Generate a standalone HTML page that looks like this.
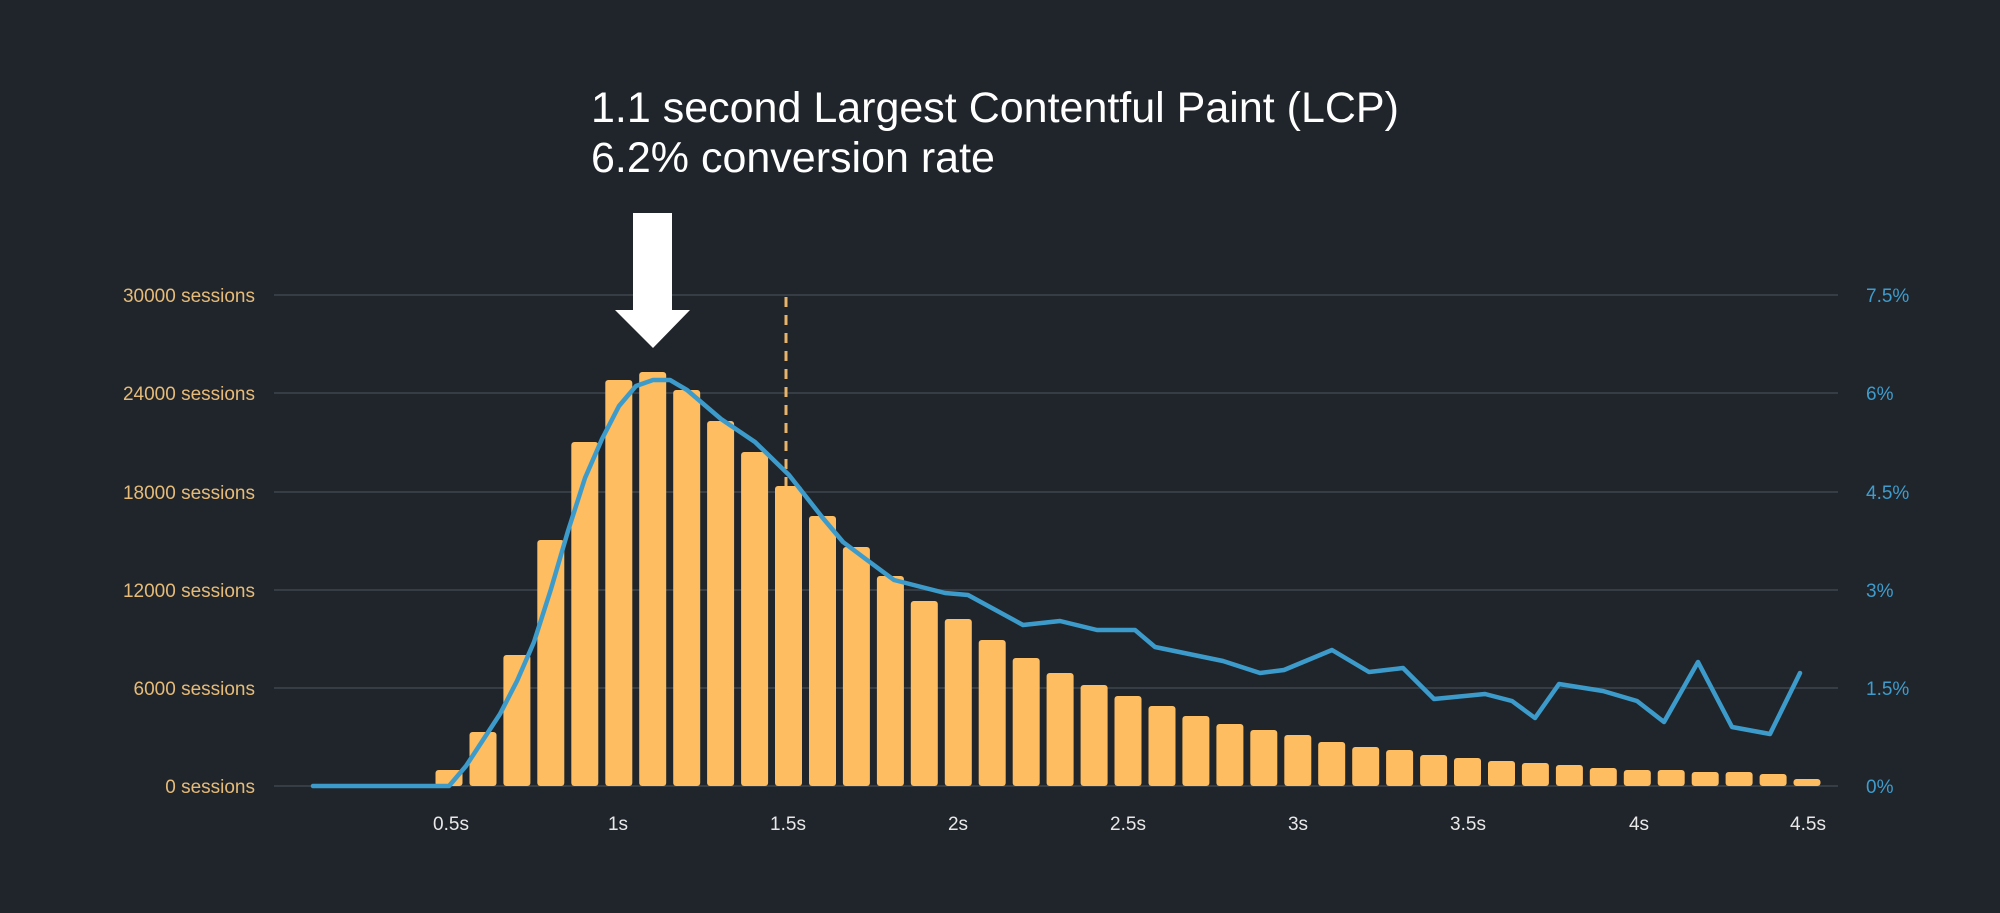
<!DOCTYPE html>
<html><head><meta charset="utf-8"><style>
html,body{margin:0;padding:0;background:#1f252b;}
svg{display:block}
</style></head><body>
<svg width="2000" height="913" viewBox="0 0 2000 913" xmlns="http://www.w3.org/2000/svg">
<rect width="2000" height="913" fill="#1f252b"/>
<g stroke="#363d44" stroke-width="2">
<line x1="274" x2="1838" y1="295" y2="295"/>
<line x1="274" x2="1838" y1="393" y2="393"/>
<line x1="274" x2="1838" y1="492" y2="492"/>
<line x1="274" x2="1838" y1="590" y2="590"/>
<line x1="274" x2="1838" y1="688" y2="688"/>
<line x1="274" x2="1838" y1="786" y2="786"/>
</g>
<g font-family="Liberation Sans, sans-serif" font-size="19" fill="#e6bb78" text-anchor="end">
<text x="255" y="302">30000 sessions</text>
<text x="255" y="400">24000 sessions</text>
<text x="255" y="499">18000 sessions</text>
<text x="255" y="597">12000 sessions</text>
<text x="255" y="695">6000 sessions</text>
<text x="255" y="793">0 sessions</text>
</g>
<g font-family="Liberation Sans, sans-serif" font-size="19" fill="#3f9ccc">
<text x="1866" y="302">7.5%</text>
<text x="1866" y="400">6%</text>
<text x="1866" y="499">4.5%</text>
<text x="1866" y="597">3%</text>
<text x="1866" y="695">1.5%</text>
<text x="1866" y="793">0%</text>
</g>
<g font-family="Liberation Sans, sans-serif" font-size="19" fill="#e8e8e8" text-anchor="middle">
<text x="451" y="830">0.5s</text>
<text x="618" y="830">1s</text>
<text x="788" y="830">1.5s</text>
<text x="958" y="830">2s</text>
<text x="1128" y="830">2.5s</text>
<text x="1298" y="830">3s</text>
<text x="1468" y="830">3.5s</text>
<text x="1639" y="830">4s</text>
<text x="1808" y="830">4.5s</text>
</g>
<line x1="786" x2="786" y1="297" y2="486" stroke="#e8b46a" stroke-width="3" stroke-dasharray="10,8"/>
<g fill="#fdbd60">
<rect x="435.5" y="770" width="27" height="16" rx="3"/>
<rect x="469.5" y="732" width="27" height="54" rx="3"/>
<rect x="503.4" y="655" width="27" height="131" rx="3"/>
<rect x="537.3" y="540" width="27" height="246" rx="3"/>
<rect x="571.3" y="442" width="27" height="344" rx="3"/>
<rect x="605.3" y="380" width="27" height="406" rx="3"/>
<rect x="639.2" y="372" width="27" height="414" rx="3"/>
<rect x="673.2" y="390" width="27" height="396" rx="3"/>
<rect x="707.1" y="421" width="27" height="365" rx="3"/>
<rect x="741.1" y="452" width="27" height="334" rx="3"/>
<rect x="775" y="486" width="27" height="300" rx="3"/>
<rect x="809" y="516" width="27" height="270" rx="3"/>
<rect x="842.9" y="547" width="27" height="239" rx="3"/>
<rect x="876.9" y="576" width="27" height="210" rx="3"/>
<rect x="910.8" y="601" width="27" height="185" rx="3"/>
<rect x="944.8" y="619" width="27" height="167" rx="3"/>
<rect x="978.7" y="640" width="27" height="146" rx="3"/>
<rect x="1012.7" y="658" width="27" height="128" rx="3"/>
<rect x="1046.6" y="673" width="27" height="113" rx="3"/>
<rect x="1080.6" y="685" width="27" height="101" rx="3"/>
<rect x="1114.5" y="696" width="27" height="90" rx="3"/>
<rect x="1148.5" y="706" width="27" height="80" rx="3"/>
<rect x="1182.4" y="716" width="27" height="70" rx="3"/>
<rect x="1216.4" y="724" width="27" height="62" rx="3"/>
<rect x="1250.3" y="730" width="27" height="56" rx="3"/>
<rect x="1284.3" y="735" width="27" height="51" rx="3"/>
<rect x="1318.2" y="742" width="27" height="44" rx="3"/>
<rect x="1352.2" y="747" width="27" height="39" rx="3"/>
<rect x="1386.1" y="750" width="27" height="36" rx="3"/>
<rect x="1420.1" y="755" width="27" height="31" rx="3"/>
<rect x="1454" y="758" width="27" height="28" rx="3"/>
<rect x="1488" y="761" width="27" height="25" rx="3"/>
<rect x="1521.9" y="763" width="27" height="23" rx="3"/>
<rect x="1555.9" y="765" width="27" height="21" rx="3"/>
<rect x="1589.8" y="768" width="27" height="18" rx="3"/>
<rect x="1623.8" y="770" width="27" height="16" rx="3"/>
<rect x="1657.7" y="770" width="27" height="16" rx="3"/>
<rect x="1691.7" y="772" width="27" height="14" rx="3"/>
<rect x="1725.6" y="772" width="27" height="14" rx="3"/>
<rect x="1759.6" y="774" width="27" height="12" rx="3"/>
<rect x="1793.5" y="779" width="27" height="7" rx="3"/>
</g>
<polyline fill="none" stroke="#3d9bcb" stroke-width="4.5" stroke-linejoin="round" stroke-linecap="round" points="313,786 449,786 466,766 483,740 500,714 517,681 534,642 551,589 568,531 585,478 602,439 619,406 636,386 653,380 670,380 687,390 721,419 755,442 789,475 822,517 843,542 863,557 894,580 945,593 968,595 1023,625 1060,621 1097,630 1135,630 1155,647 1223,661 1260,673 1284,670 1332,650 1369,672 1403,668 1434,699 1485,694 1512,701 1535,718 1559,684 1603,691 1637,701 1664,722 1698,662 1732,727 1770,734 1800,673"/>
<polygon fill="#ffffff" points="633,213 672,213 672,310 690,310 653,348 615,310 633,310"/>
<g font-family="Liberation Sans, sans-serif" font-size="43" fill="#ffffff">
<text x="591" y="122">1.1 second Largest Contentful Paint (LCP)</text>
<text x="591" y="172">6.2% conversion rate</text>
</g>
</svg>
</body></html>
